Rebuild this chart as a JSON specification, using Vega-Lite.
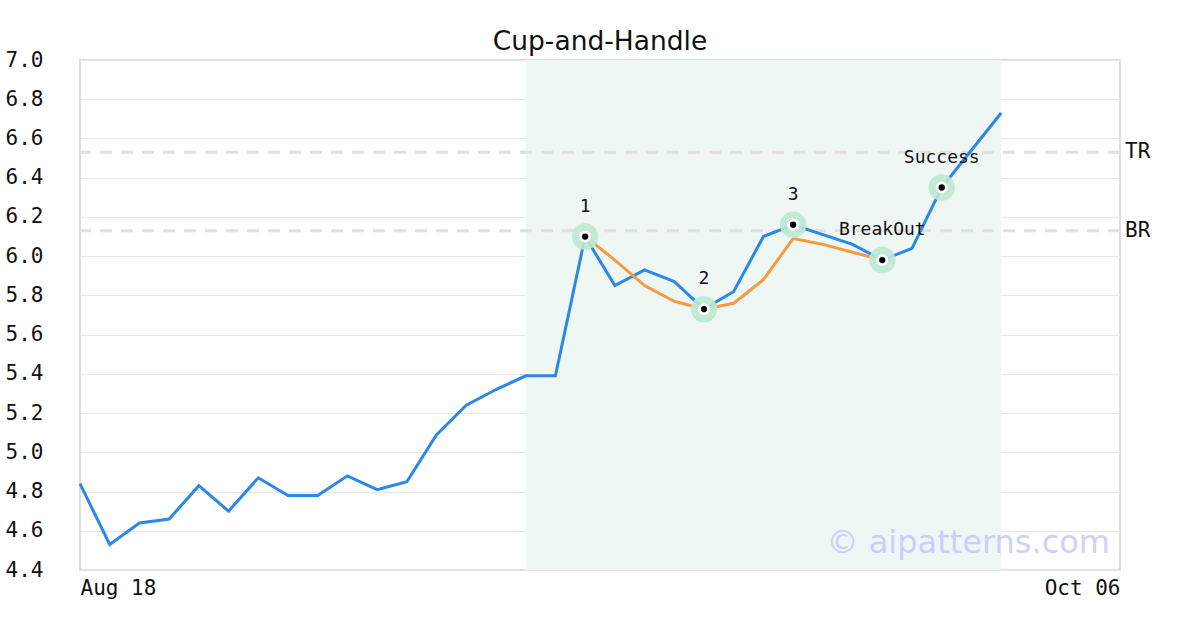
{
  "$schema": "https://vega.github.io/schema/vega-lite/v6.json",
  "width": 1040,
  "height": 510,
  "autosize": {"type": "none"},
  "padding": {"left": 80, "top": 60, "right": 80, "bottom": 60},
  "background": "white",
  "title": {"text": "Cup-and-Handle", "font": "DejaVu Sans", "fontSize": 26.5, "fontWeight": "normal", "color": "#111111", "anchor": "middle", "baseline": "bottom", "offset": -33},
  "config": {
    "view": {"stroke": "#dddddd", "strokeWidth": 2},
    "axis": {"labelFont": "DejaVu Sans Mono", "labelFontSize": 21, "labelColor": "#111111", "domain": false, "ticks": false, "title": null, "labelOverlap": false, "gridColor": "#e6e6e6"}
  },
  "datasets": {
    "price": [
      {"i": 0, "p": 4.84}, {"i": 1, "p": 4.53}, {"i": 2, "p": 4.64}, {"i": 3, "p": 4.66},
      {"i": 4, "p": 4.83}, {"i": 5, "p": 4.70}, {"i": 6, "p": 4.87}, {"i": 7, "p": 4.78},
      {"i": 8, "p": 4.78}, {"i": 9, "p": 4.88}, {"i": 10, "p": 4.81}, {"i": 11, "p": 4.85},
      {"i": 12, "p": 5.09}, {"i": 13, "p": 5.24}, {"i": 14, "p": 5.32}, {"i": 15, "p": 5.39},
      {"i": 16, "p": 5.39}, {"i": 17, "p": 6.10}, {"i": 18, "p": 5.85}, {"i": 19, "p": 5.93},
      {"i": 20, "p": 5.87}, {"i": 21, "p": 5.73}, {"i": 22, "p": 5.82}, {"i": 23, "p": 6.10},
      {"i": 24, "p": 6.16}, {"i": 25, "p": 6.11}, {"i": 26, "p": 6.06}, {"i": 27, "p": 5.98},
      {"i": 28, "p": 6.04}, {"i": 29, "p": 6.35}, {"i": 30, "p": 6.54}, {"i": 31, "p": 6.73}
    ],
    "cup": [
      {"i": 17, "p": 6.10}, {"i": 18, "p": 5.98}, {"i": 19, "p": 5.85}, {"i": 20, "p": 5.77},
      {"i": 21, "p": 5.73}, {"i": 22, "p": 5.76}, {"i": 23, "p": 5.88}, {"i": 24, "p": 6.09},
      {"i": 25, "p": 6.06}, {"i": 26, "p": 6.02}, {"i": 27, "p": 5.98}
    ],
    "marks": [
      {"i": 17, "p": 6.10, "label": "1"},
      {"i": 21, "p": 5.73, "label": "2"},
      {"i": 24, "p": 6.16, "label": "3"},
      {"i": 27, "p": 5.98, "label": "BreakOut"},
      {"i": 29, "p": 6.35, "label": "Success"}
    ],
    "levels": [
      {"name": "TR", "p": 6.53, "i": 35},
      {"name": "BR", "p": 6.13, "i": 35}
    ],
    "band": [{"start": 15, "end": 31}],
    "wm": [{"i": 35, "p": 4.54, "text": "© aipatterns.com"}]
  },
  "layer": [
    {
      "data": {"name": "band"},
      "mark": {"type": "rect", "color": "#eef7f3"},
      "encoding": {
        "x": {"field": "start", "type": "quantitative", "scale": {"domain": [0, 35], "nice": false, "zero": false},
              "axis": {"values": [0, 35], "labelExpr": "datum.value == 0 ? 'Aug 18' : 'Oct 06'", "labelFlush": true, "grid": false, "labelPadding": 7, "labelOverlap": false}},
        "x2": {"field": "end"}
      }
    },
    {
      "data": {"name": "levels"},
      "mark": {"type": "rule", "color": "#e0e0e0", "strokeWidth": 3, "strokeDash": [12, 9]},
      "encoding": {
        "y": {"field": "p", "type": "quantitative", "scale": {"domain": [4.4, 7.0], "nice": false, "zero": false},
              "axis": {"values": [4.4, 4.6, 4.8, 5.0, 5.2, 5.4, 5.6, 5.8, 6.0, 6.2, 6.4, 6.6, 6.8, 7.0], "tickCount": 20, "format": ".1f", "grid": true, "gridColor": "#e6e6e6", "labelAlign": "left", "labelPadding": 75, "labelOverlap": false, "labelBound": false, "zindex": 0}}
      }
    },
    {
      "data": {"name": "levels"},
      "mark": {"type": "text", "align": "left", "baseline": "middle", "dx": 5, "font": "DejaVu Sans Mono", "fontSize": 21, "color": "#111111", "clip": false},
      "encoding": {"x": {"field": "i", "type": "quantitative"}, "y": {"field": "p", "type": "quantitative"}, "text": {"field": "name"}}
    },
    {
      "data": {"name": "price"},
      "mark": {"type": "line", "color": "#2b87e8", "strokeWidth": 3},
      "encoding": {"x": {"field": "i", "type": "quantitative"}, "y": {"field": "p", "type": "quantitative"}}
    },
    {
      "data": {"name": "cup"},
      "mark": {"type": "line", "color": "#f59a45", "strokeWidth": 3},
      "encoding": {"x": {"field": "i", "type": "quantitative"}, "y": {"field": "p", "type": "quantitative"}}
    },
    {
      "data": {"name": "marks"},
      "mark": {"type": "circle", "color": "#bde9d3", "opacity": 0.9, "size": 700},
      "encoding": {"x": {"field": "i", "type": "quantitative"}, "y": {"field": "p", "type": "quantitative"}}
    },
    {
      "data": {"name": "marks"},
      "mark": {"type": "circle", "color": "#ffffff", "opacity": 1, "size": 140},
      "encoding": {"x": {"field": "i", "type": "quantitative"}, "y": {"field": "p", "type": "quantitative"}}
    },
    {
      "data": {"name": "marks"},
      "mark": {"type": "circle", "color": "#000000", "opacity": 1, "size": 40},
      "encoding": {"x": {"field": "i", "type": "quantitative"}, "y": {"field": "p", "type": "quantitative"}}
    },
    {
      "data": {"name": "marks"},
      "mark": {"type": "text", "align": "center", "baseline": "middle", "dy": -30, "font": "DejaVu Sans Mono", "fontSize": 18, "color": "#111111"},
      "encoding": {"x": {"field": "i", "type": "quantitative"}, "y": {"field": "p", "type": "quantitative"}, "text": {"field": "label"}}
    },
    {
      "data": {"name": "wm"},
      "mark": {"type": "text", "align": "right", "baseline": "middle", "dx": -10, "font": "DejaVu Sans", "fontSize": 32, "color": "#c8c8ff", "opacity": 0.85},
      "encoding": {"x": {"field": "i", "type": "quantitative"}, "y": {"field": "p", "type": "quantitative"}, "text": {"field": "text"}}
    }
  ]
}
